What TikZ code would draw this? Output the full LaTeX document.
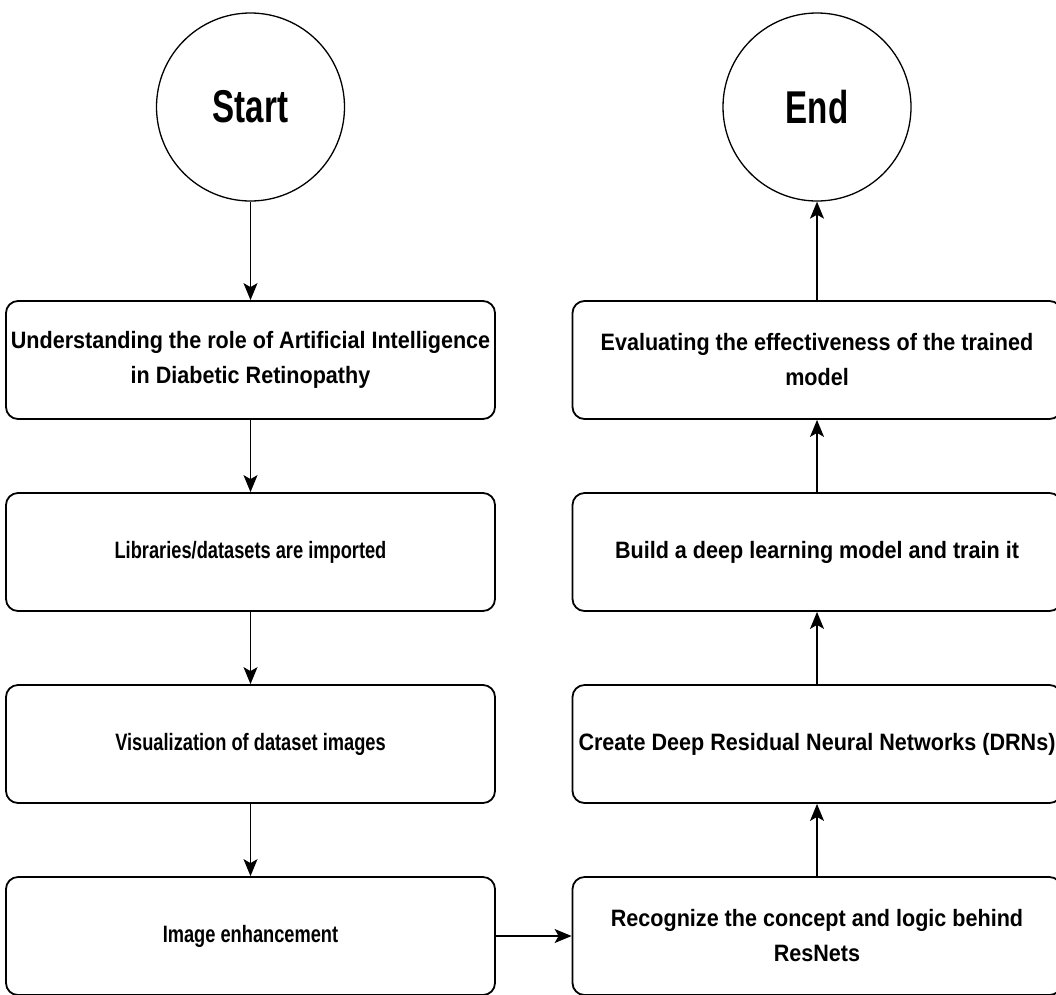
\documentclass[tikz,border=0pt]{standalone}
\usepackage{fontspec}
\setmainfont{Liberation Sans}[FakeStretch=0.72]
\newfontfamily\widebox{Liberation Sans}[FakeStretch=0.91]
\newfontfamily\narrowbox{Liberation Sans}[FakeStretch=0.77]
\usetikzlibrary{arrows.meta}
\begin{document}
\begin{tikzpicture}[x=1pt,y=-1pt,
  stepbox/.style={draw, line width=1.8pt, rounded corners=12pt,
    minimum width=489pt, minimum height=118pt, inner sep=0pt, align=center,
    font=\widebox\fontsize{23.7}{35}\selectfont\bfseries},
  shortbox/.style={stepbox, font=\narrowbox\fontsize{23.7}{35}\selectfont\bfseries},
  terminal/.style={draw, circle, line width=1.3pt, minimum size=188pt, inner sep=0pt,
    font=\fontsize{46}{50}\selectfont\bfseries},
  flow/.style={line width=1.3pt, -{Stealth[length=17pt,width=14pt,inset=4pt]}}]
\useasboundingbox (0,0) rectangle (1056,994);
\clip (0,0) rectangle (1056,994);

% terminals
\node[terminal] (start) at (250.5,107) {Start};
\node[terminal] (end) at (817,107) {End};

% left column
\node[stepbox] (l1) at (250.5,360) {Understanding the role of Artificial Intelligence\\in Diabetic Retinopathy};
\node[shortbox] (l2) at (250.5,552) {Libraries/datasets are imported};
\node[shortbox] (l3) at (250.5,744) {Visualization of dataset images};
\node[shortbox] (l4) at (250.5,936) {Image enhancement};

% right column
\node[stepbox] (r1) at (817,360) {Evaluating the effectiveness of the trained\\model};
\node[stepbox] (r2) at (817,552) {Build a deep learning model and train it};
\node[stepbox] (r3) at (817,744) {Create Deep Residual Neural Networks (DRNs)};
\node[stepbox] (r4) at (817,936) {Recognize the concept and logic behind\\ResNets};

% connectors
\draw[flow] (start) -- (l1);
\draw[flow] (l1) -- (l2);
\draw[flow] (l2) -- (l3);
\draw[flow] (l3) -- (l4);
\draw[flow] (l4) -- (r4);
\draw[flow] (r4) -- (r3);
\draw[flow] (r3) -- (r2);
\draw[flow] (r2) -- (r1);
\draw[flow] (r1) -- (end);
\end{tikzpicture}
\end{document}
